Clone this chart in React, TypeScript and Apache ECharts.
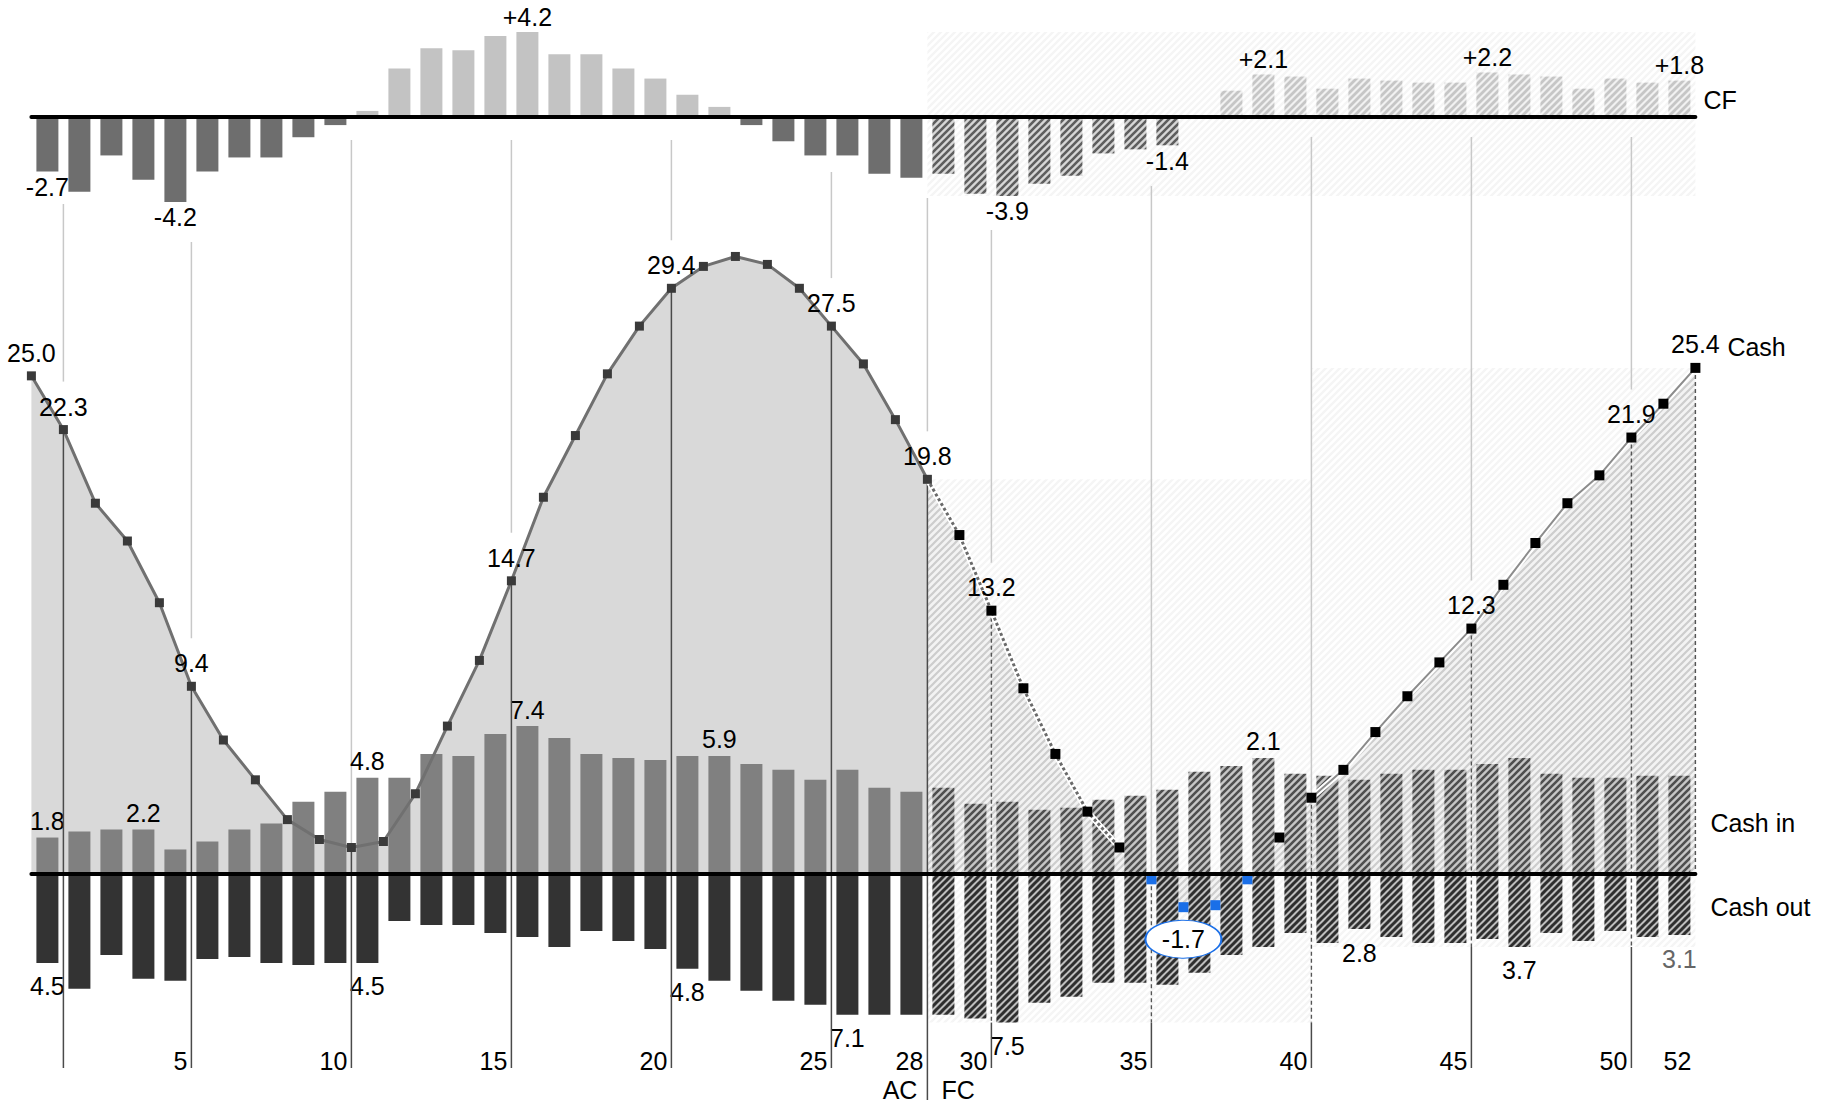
import React, { useEffect, useRef } from "react";
import * as echarts from "echarts";

// ---------------- DATA ----------------
const weeks: string[] = Array.from({ length: 52 }, (_, i) => String(i + 1));

// weekly cash flow (CF = cash in - cash out)
const cashFlow = [
  -2.7, -3.7, -1.9, -3.1, -4.2, -2.7, -2.0, -2.0, -1.0, -0.4,
  0.3, 2.4, 3.4, 3.3, 4.0, 4.2, 3.1, 3.1, 2.4, 1.9,
  1.1, 0.5, -0.4, -1.2, -1.9, -1.9, -2.8, -3.0,
  -2.8, -3.8, -3.9, -3.3, -2.9, -1.8, -1.6, -1.4,
  0.1, 1.3, 2.1, 2.0, 1.4, 1.9, 1.8, 1.7,
  1.7, 2.2, 2.1, 2.0, 1.4, 1.9, 1.7, 1.8,
];

const cashIn = [
  1.8, 2.1, 2.2, 2.2, 1.2, 1.6, 2.2, 2.5, 3.6, 4.1,
  4.8, 4.8, 6.0, 5.9, 7.0, 7.4, 6.8, 6.0, 5.8, 5.7,
  5.9, 5.9, 5.5, 5.2, 4.7, 5.2, 4.3, 4.1,
  4.3, 3.5, 3.6, 3.2, 3.3, 3.7, 3.9, 4.2,
  5.1, 5.4, 5.8, 5.0, 4.9, 4.7, 5.0, 5.2,
  5.2, 5.5, 5.8, 5.0, 4.8, 4.8, 4.9, 4.9,
];

const cashOut = [
  4.5, 5.8, 4.1, 5.3, 5.4, 4.3, 4.2, 4.5, 4.6, 4.5,
  4.5, 2.4, 2.6, 2.6, 3.0, 3.2, 3.7, 2.9, 3.4, 3.8,
  4.8, 5.4, 5.9, 6.4, 6.6, 7.1, 7.1, 7.1,
  7.1, 7.3, 7.5, 6.5, 6.2, 5.5, 5.5, 5.6,
  5.0, 4.1, 3.7, 3.0, 3.5, 2.8, 3.2, 3.5,
  3.5, 3.3, 3.7, 3.0, 3.4, 2.9, 3.2, 3.1,
];

// cash balance at week boundaries 0..52
const cashBalance = [
  25.0, 22.3, 18.6, 16.7, 13.6, 9.4, 6.7, 4.7, 2.7, 1.7, 1.3,
  1.6, 4.0, 7.4, 10.7, 14.7, 18.9, 22.0, 25.1, 27.5, 29.4,
  30.5, 31.0, 30.6, 29.4, 27.5, 25.6, 22.8, 19.8,
  17.0, 13.2, 9.3, 6.0, 3.1, 1.3, -0.3, -1.7, -1.6, -0.3, 1.8, 3.8,
  5.2, 7.1, 8.9, 10.6, 12.3, 14.5, 16.6, 18.6, 20.0, 21.9, 23.6, 25.4,
];

const ACTUAL_WEEKS = 28;
const cfLabelWeeks = [1, 5, 16, 31, 36, 39, 46, 52];
const cashInLabels: [number, string][] = [
  [1, "1.8"], [4, "2.2"], [11, "4.8"], [16, "7.4"], [22, "5.9"], [39, "2.1"],
];
const cashOutLabelWeeks = [1, 11, 21, 26, 31, 42, 47, 52];
const cashLabelPoints = [0, 1, 5, 15, 20, 25, 28, 30, 45, 50, 52];
const lowPoint = 36;
const xTickValues = [5, 10, 15, 20, 25, 28, 30, 35, 40, 45, 50, 52];
const guideBoundaries = [1, 5, 10, 15, 20, 25, 28, 30, 35, 40, 45, 50];
const fcSections: [number, number][] = [[28, 40], [40, 52]];
const hiddenLineRange: [number, number] = [34, 40];

// ---------------- LAYOUT ----------------
const W = 1826;
const H = 1103;
const GRID_LEFT = 31.4;
const GRID_RIGHT = 130.6;
const CF_TOP = 28;
const CF_HEIGHT = 178;
const CF_MIN = -4.4;
const CF_MAX = 4.4;
const MAIN_TOP = 127.1;
const MAIN_HEIGHT = 975.1;
const MAIN_MIN = -11.5;
const MAIN_MAX = 37.5;
const PX_PER_UNIT = MAIN_HEIGHT / (MAIN_MAX - MAIN_MIN);
const WEEK_PX = (W - GRID_LEFT - GRID_RIGHT) / 52;
const guideTopPx = [204, 242, 140, 140, 140, 172, 198, 230, 186, 137, 137, 137];
const GUIDE_BOTTOM_PX = 1068;
const SPLIT_BOTTOM_PX = 1100;
const LABEL_GAP_PX = 48;
const toMain = (px: number) => MAIN_MAX - (px - MAIN_TOP) / PX_PER_UNIT;

const FONT = '"Liberation Sans", Arial, Helvetica, sans-serif';
const FS = 25;
const BLUE = "#1a6fe8";

function stripe(bg: string, fg: string, lw: number, size = 7): any {
  const c = document.createElement("canvas");
  c.width = size;
  c.height = size;
  const ctx = c.getContext("2d")!;
  ctx.fillStyle = bg;
  ctx.fillRect(0, 0, size, size);
  ctx.strokeStyle = fg;
  ctx.lineWidth = lw;
  ctx.beginPath();
  for (const o of [-size, 0, size]) {
    ctx.moveTo(o - 1, size + 1);
    ctx.lineTo(o + size + 1, -1);
  }
  ctx.stroke();
  return { image: c, repeat: "repeat", imageWidth: size, imageHeight: size };
}

export default function App() {
  const ref = useRef<HTMLDivElement>(null);

  useEffect(() => {
    const chart = echarts.init(ref.current!, null, { renderer: "svg" });

    const patCfPos = stripe("#f1f1f1", "#c6c6c6", 2.8);
    const patCfNeg = stripe("#d6d6d6", "#5e5e5e", 2.6);
    const patIn = stripe("#c6c6c6", "#4f4f4f", 2.6);
    const patOut = stripe("#bdbdbd", "#2e2e2e", 3.0);
    const patArea = stripe("#f3f3f3", "#cdcdcd", 2.2);
    const patFaint = stripe("#ffffff", "#f5f5f5", 2.4);

    // CF bars
    const cfData = cashFlow.map((v, i) => {
      const w = i + 1;
      const fc = w > ACTUAL_WEEKS;
      const color = v >= 0 ? (fc ? patCfPos : "#c3c3c3") : fc ? patCfNeg : "#6e6e6e";
      const show = cfLabelWeeks.includes(w);
      return {
        value: v,
        itemStyle: { color },
        label: show
          ? {
              show: true,
              position: v >= 0 ? "top" : "bottom",
              distance: 3,
              formatter: (v > 0 ? "+" : "") + v.toFixed(1),
            }
          : { show: false },
      };
    });

    const inData = cashIn.map((v, i) => {
      const w = i + 1;
      const lab = cashInLabels.find((l) => l[0] === w);
      return {
        value: v,
        itemStyle: { color: w > ACTUAL_WEEKS ? patIn : "#808080" },
        label: lab
          ? { show: true, position: "top", distance: 4, formatter: lab[1] }
          : { show: false },
      };
    });

    const outData = cashOut.map((v, i) => {
      const w = i + 1;
      const show = cashOutLabelWeeks.includes(w);
      return {
        value: -v,
        itemStyle: { color: w > ACTUAL_WEEKS ? patOut : "#333333" },
        label: show
          ? {
              show: true,
              position: "bottom",
              distance: 11,
              formatter: v.toFixed(1),
              color: w === 52 ? "#666" : "#000",
            }
          : { show: false },
      };
    });

    // guide segments [x, y1, y2, kind]  kind 0 light, 1 dark, 2 dashed
    const lightSegs: number[][] = [];
    const darkSegs: number[][] = [];
    guideBoundaries.forEach((k, i) => {
      const c = cashBalance[k];
      const top = toMain(guideTopPx[i]);
      const labeled = cashLabelPoints.includes(k);
      const upper = labeled ? c + LABEL_GAP_PX / PX_PER_UNIT : c;
      lightSegs.push([k, top, upper, 0]);
      const bottom = toMain(k === ACTUAL_WEEKS ? SPLIT_BOTTOM_PX : GUIDE_BOTTOM_PX);
      if (k <= ACTUAL_WEEKS) {
        darkSegs.push([k, c, bottom, 1]);
      } else {
        const sec = fcSections.find(([a, b]) => k > a && k <= b)!;
        const floor = -Math.max(...cashOut.slice(sec[0], sec[1]));
        darkSegs.push([k, c, floor, 2]);
        darkSegs.push([k, floor, bottom, 1]);
      }
    });
    darkSegs.push([52, cashBalance[52], 0, 2]);

    const faintRects = fcSections.map(([a, b]) => {
      const floor = -Math.max(...cashOut.slice(a, b));
      const ceil = Math.max(...cashBalance.slice(a, b + 1));
      return [a, b, floor, ceil];
    });
    const cfFc = cashFlow.slice(ACTUAL_WEEKS);
    const cfFaint = [[ACTUAL_WEEKS, 52, Math.min(...cfFc), Math.max(...cashFlow)]];

    const segRender = (params: any, api: any) => {
      const x = api.value(0);
      const a = api.coord([x, api.value(1)]);
      const b = api.coord([x, api.value(2)]);
      const kind = api.value(3);
      const style =
        kind === 0
          ? { stroke: "#c8c8c8", lineWidth: 1.5 }
          : kind === 1
          ? { stroke: "#4a4a4a", lineWidth: 1.5 }
          : { stroke: "#555555", lineWidth: 1.4, lineDash: [4, 3] };
      return { type: "line", shape: { x1: a[0], y1: a[1], x2: b[0], y2: b[1] }, style };
    };

    const rectRender = (params: any, api: any) => {
      const p1 = api.coord([api.value(0), api.value(3)]);
      const p2 = api.coord([api.value(1), api.value(2)]);
      return {
        type: "rect",
        shape: { x: p1[0], y: p1[1], width: p2[0] - p1[0], height: p2[1] - p1[1] },
        style: { fill: patFaint },
      };
    };

    const acPts = cashBalance.slice(0, ACTUAL_WEEKS + 1).map((v, k) => ({
      value: [k, v],
      label: cashLabelPoints.includes(k) ? { show: true } : { show: false },
    }));
    const fcLine = cashBalance.slice(ACTUAL_WEEKS).map((v, i) => [i + ACTUAL_WEEKS, v]);
    const fcPts = cashBalance.slice(ACTUAL_WEEKS + 1).map((v, i) => {
      const k = i + ACTUAL_WEEKS + 1;
      return {
        value: [k, v],
        itemStyle: { color: v < 0 ? BLUE : "#000000" },
        label: cashLabelPoints.includes(k) ? { show: true } : { show: false },
      };
    });
    const [h0, h1] = hiddenLineRange;
    const fcBefore = fcLine.filter((p) => p[0] <= h0);
    const fcHidden = fcLine.filter((p) => p[0] >= h0 && p[0] <= h1);
    const fcAfter = fcLine.filter((p) => p[0] >= h1);

    const pointLabel = {
      show: false,
      position: "top",
      distance: 6,
      color: "#000",
      fontSize: FS,
      fontFamily: FONT,
      formatter: (p: any) => Number(p.value[1]).toFixed(1),
    };

    const splitX = GRID_LEFT + ACTUAL_WEEKS * WEEK_PX;

    const lineBase = {
      type: "line",
      xAxisIndex: 2,
      yAxisIndex: 1,
      silent: true,
      clip: false,
      symbol: "none",
    };

    const option: any = {
      animation: false,
      backgroundColor: "#ffffff",
      textStyle: { fontFamily: FONT, fontSize: FS, color: "#000" },
      grid: [
        { left: GRID_LEFT, right: GRID_RIGHT, top: CF_TOP, height: CF_HEIGHT },
        { left: GRID_LEFT, right: GRID_RIGHT, top: MAIN_TOP, height: MAIN_HEIGHT },
      ],
      xAxis: [
        {
          type: "category",
          gridIndex: 0,
          data: weeks,
          z: 10,
          axisLine: { onZero: true, lineStyle: { color: "#000", width: 4 } },
          axisTick: { show: false },
          axisLabel: { show: false },
          splitLine: { show: false },
        },
        {
          type: "category",
          gridIndex: 1,
          data: weeks,
          position: "top",
          z: 10,
          axisLine: { onZero: true, lineStyle: { color: "#000", width: 4 } },
          axisTick: { show: false },
          axisLabel: { show: false },
          splitLine: { show: false },
        },
        {
          type: "value",
          gridIndex: 1,
          min: 0,
          max: 52,
          position: "bottom",
          offset: -41,
          axisLine: { show: false },
          axisTick: { show: false },
          splitLine: { show: false },
          axisLabel: {
            customValues: xTickValues,
            align: "right",
            verticalAlign: "middle",
            margin: 0,
            padding: [0, 4, 0, 0],
            fontSize: FS,
            fontFamily: FONT,
            color: "#000",
          },
        },
        { type: "value", gridIndex: 0, min: 0, max: 52, show: false },
      ],
      yAxis: [
        { type: "value", gridIndex: 0, min: CF_MIN, max: CF_MAX, show: false },
        { type: "value", gridIndex: 1, min: MAIN_MIN, max: MAIN_MAX, show: false },
      ],
      graphic: [
        { type: "text", x: W - GRID_RIGHT + 8, y: 100, style: { text: "CF", fontSize: FS, fontFamily: FONT, fill: "#000", align: "left", verticalAlign: "middle" } },
        { type: "text", x: W - GRID_RIGHT + 32, y: 347, style: { text: "Cash", fontSize: FS, fontFamily: FONT, fill: "#000", align: "left", verticalAlign: "middle" } },
        { type: "text", x: W - GRID_RIGHT + 15, y: 823, style: { text: "Cash in", fontSize: FS, fontFamily: FONT, fill: "#000", align: "left", verticalAlign: "middle" } },
        { type: "text", x: W - GRID_RIGHT + 15, y: 907, style: { text: "Cash out", fontSize: FS, fontFamily: FONT, fill: "#000", align: "left", verticalAlign: "middle" } },
        { type: "text", x: splitX - 10, y: 1090, style: { text: "AC", fontSize: FS, fontFamily: FONT, fill: "#000", align: "right", verticalAlign: "middle" } },
        { type: "text", x: splitX + 14, y: 1090, style: { text: "FC", fontSize: FS, fontFamily: FONT, fill: "#000", align: "left", verticalAlign: "middle" } },
      ],
      series: [
        {
          type: "custom",
          name: "faint",
          xAxisIndex: 2,
          yAxisIndex: 1,
          z: 0,
          silent: true,
          data: faintRects,
          encode: { x: [0, 1], y: [2, 3] },
          renderItem: rectRender,
        },
        {
          type: "custom",
          name: "faintCF",
          xAxisIndex: 3,
          yAxisIndex: 0,
          z: 0,
          silent: true,
          data: cfFaint,
          encode: { x: [0, 1], y: [2, 3] },
          renderItem: rectRender,
        },
        {
          ...lineBase,
          name: "areaAC",
          z: 1,
          lineStyle: { width: 0, opacity: 0 },
          areaStyle: { color: "#d9d9d9", opacity: 1 },
          data: cashBalance.slice(0, ACTUAL_WEEKS + 1).map((v, k) => [k, v]),
        },
        {
          ...lineBase,
          name: "areaFC",
          z: 1,
          lineStyle: { width: 0, opacity: 0 },
          areaStyle: { color: patArea, opacity: 1 },
          data: fcLine,
        },
        {
          type: "custom",
          name: "guidesLight",
          xAxisIndex: 2,
          yAxisIndex: 1,
          z: 1,
          silent: true,
          data: lightSegs,
          encode: { x: 0, y: [1, 2] },
          renderItem: segRender,
        },
        {
          ...lineBase,
          name: "hiddenFC",
          z: 1.5,
          lineStyle: { color: "#ffffff", width: 4 },
          data: fcHidden,
        },
        {
          type: "bar",
          name: "CF",
          xAxisIndex: 0,
          yAxisIndex: 0,
          barWidth: 22,
          z: 2,
          data: cfData,
          label: { color: "#000", fontSize: FS, fontFamily: FONT },
        },
        {
          type: "bar",
          name: "Cash in",
          xAxisIndex: 1,
          yAxisIndex: 1,
          stack: "io",
          barWidth: 22,
          z: 2,
          data: inData,
          label: { color: "#000", fontSize: FS, fontFamily: FONT },
        },
        {
          type: "bar",
          name: "Cash out",
          xAxisIndex: 1,
          yAxisIndex: 1,
          stack: "io",
          barWidth: 22,
          z: 2,
          data: outData,
          label: { color: "#000", fontSize: FS, fontFamily: FONT },
        },
        {
          type: "custom",
          name: "guidesDark",
          xAxisIndex: 2,
          yAxisIndex: 1,
          z: 3,
          silent: true,
          data: darkSegs,
          encode: { x: 0, y: [1, 2] },
          renderItem: segRender,
        },
        {
          ...lineBase,
          name: "haloFC1",
          z: 4,
          lineStyle: { color: "#ffffff", width: 6 },
          data: fcBefore,
        },
        {
          ...lineBase,
          name: "haloFC3",
          z: 4,
          lineStyle: { color: "#ffffff", width: 6 },
          data: fcAfter,
        },
        {
          ...lineBase,
          name: "lineFC1",
          z: 5,
          lineStyle: { color: "#6a6a6a", width: 3, type: [3, 2.5] },
          data: fcBefore,
        },
        {
          ...lineBase,
          name: "lineFC3",
          z: 5,
          lineStyle: { color: "#8c8c8c", width: 2 },
          data: fcAfter,
        },
        {
          type: "line",
          name: "Cash",
          xAxisIndex: 2,
          yAxisIndex: 1,
          z: 6,
          clip: false,
          symbol: "rect",
          symbolSize: 9,
          itemStyle: { color: "#3a3a3a" },
          lineStyle: { color: "#707070", width: 3 },
          label: pointLabel,
          data: acPts,
        },
        {
          type: "line",
          name: "CashFC",
          xAxisIndex: 2,
          yAxisIndex: 1,
          z: 6,
          clip: false,
          symbol: "rect",
          symbolSize: 10,
          lineStyle: { opacity: 0, width: 0 },
          label: pointLabel,
          data: fcPts,
          markPoint: {
            silent: true,
            symbol: "circle",
            symbolSize: [76, 38],
            symbolOffset: [0, 32],
            itemStyle: { color: "#ffffff", borderColor: BLUE, borderWidth: 1.5 },
            label: {
              show: true,
              position: "inside",
              color: "#000",
              fontSize: FS,
              fontFamily: FONT,
              formatter: cashBalance[lowPoint].toFixed(1),
            },
            data: [{ coord: [lowPoint, cashBalance[lowPoint]] }],
          },
        },
      ],
    };

    chart.setOption(option);
    return () => chart.dispose();
  }, []);

  return (
    <div
      ref={ref}
      style={{ position: "fixed", left: 0, top: 0, width: W, height: H, background: "#fff" }}
    />
  );
}
